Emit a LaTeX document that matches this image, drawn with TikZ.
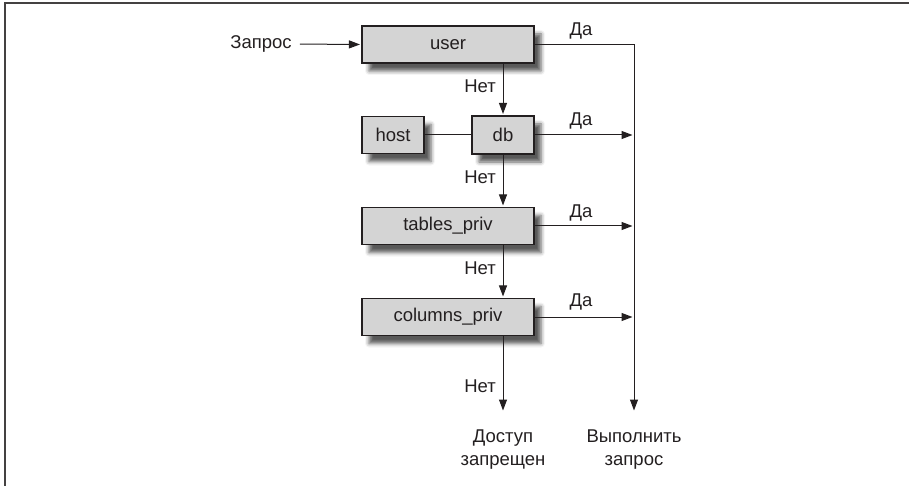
\documentclass[tikz,border=0pt]{standalone}
\usepackage{fontspec}
\setmainfont{Liberation Sans}
\usetikzlibrary{arrows.meta,shadows.blur}
\definecolor{ink}{HTML}{231F20}
\definecolor{boxfill}{HTML}{D4D4D4}
\begin{document}
\begin{tikzpicture}[x=1pt,y=-1pt,
  every node/.style={font=\fontsize{18.5}{23}\selectfont, text=ink},
  tbox/.style={draw=ink, line width=1.1pt, fill=boxfill, inner sep=0pt,
    minimum height=37pt,
    blur shadow={shadow xshift=7pt, shadow yshift=-8pt, shadow blur radius=4pt, shadow opacity=65}},
  lbl/.style={inner sep=0pt},
  flow/.style={draw=ink, line width=1pt},
  arr/.style={flow, -{Triangle[length=11pt,width=8pt]}, shorten >=1.5pt}]
\useasboundingbox (0,0) rectangle (909,486);
\draw[line width=2pt, draw=ink!85] (5,486) -- (5,3) -- (909,3);

\node[tbox, minimum width=172pt] (user) at (448,44.5) {user};
\node[tbox, minimum width=62pt] (host) at (393,135) {host};
\node[tbox, minimum width=62pt, minimum height=38pt] (db) at (503,135) {db};
\node[tbox, minimum width=172pt] (tables) at (448,226) {tables\_priv};
\node[tbox, minimum width=172pt] (columns) at (448,317) {columns\_priv};

\node[lbl] (zapros) at (261,44) {Запрос};
\node[lbl, align=center] (deny) at (503,450) {Доступ\\запрещен};
\node[lbl, align=center] (exec) at (634,450) {Выполнить\\запрос};

\coordinate (rend) at (634,412);
\coordinate (dend) at (503,412);

\draw[arr, shorten <=8pt] (zapros.east) -- (user.west);
\draw[arr] (user.east) -| (rend);
\draw[arr] (user.south -| db.north) -- (db.north);
\draw[flow] (host.east) -- (db.west);
\draw[arr] (db.east) -- (db.east -| rend);
\draw[arr] (db.south) -- (tables.north -| db.south);
\draw[arr] (tables.east) -- (tables.east -| rend);
\draw[arr] (tables.south -| db.south) -- (columns.north -| db.south);
\draw[arr] (columns.east) -- (columns.east -| rend);
\draw[arr] (columns.south -| dend) -- (dend);

\node[lbl] (da1) at (581,31) {Да};
\node[lbl] (da2) at (581,121) {Да};
\node[lbl] (da3) at (581,213) {Да};
\node[lbl] (da4) at (581,302) {Да};
\node[lbl, anchor=east] (net1) at (496,86) {Нет};
\node[lbl, anchor=east] (net2) at (496,177) {Нет};
\node[lbl, anchor=east] (net3) at (496,268) {Нет};
\node[lbl, anchor=east] (net4) at (496,386) {Нет};
\end{tikzpicture}
\end{document}
